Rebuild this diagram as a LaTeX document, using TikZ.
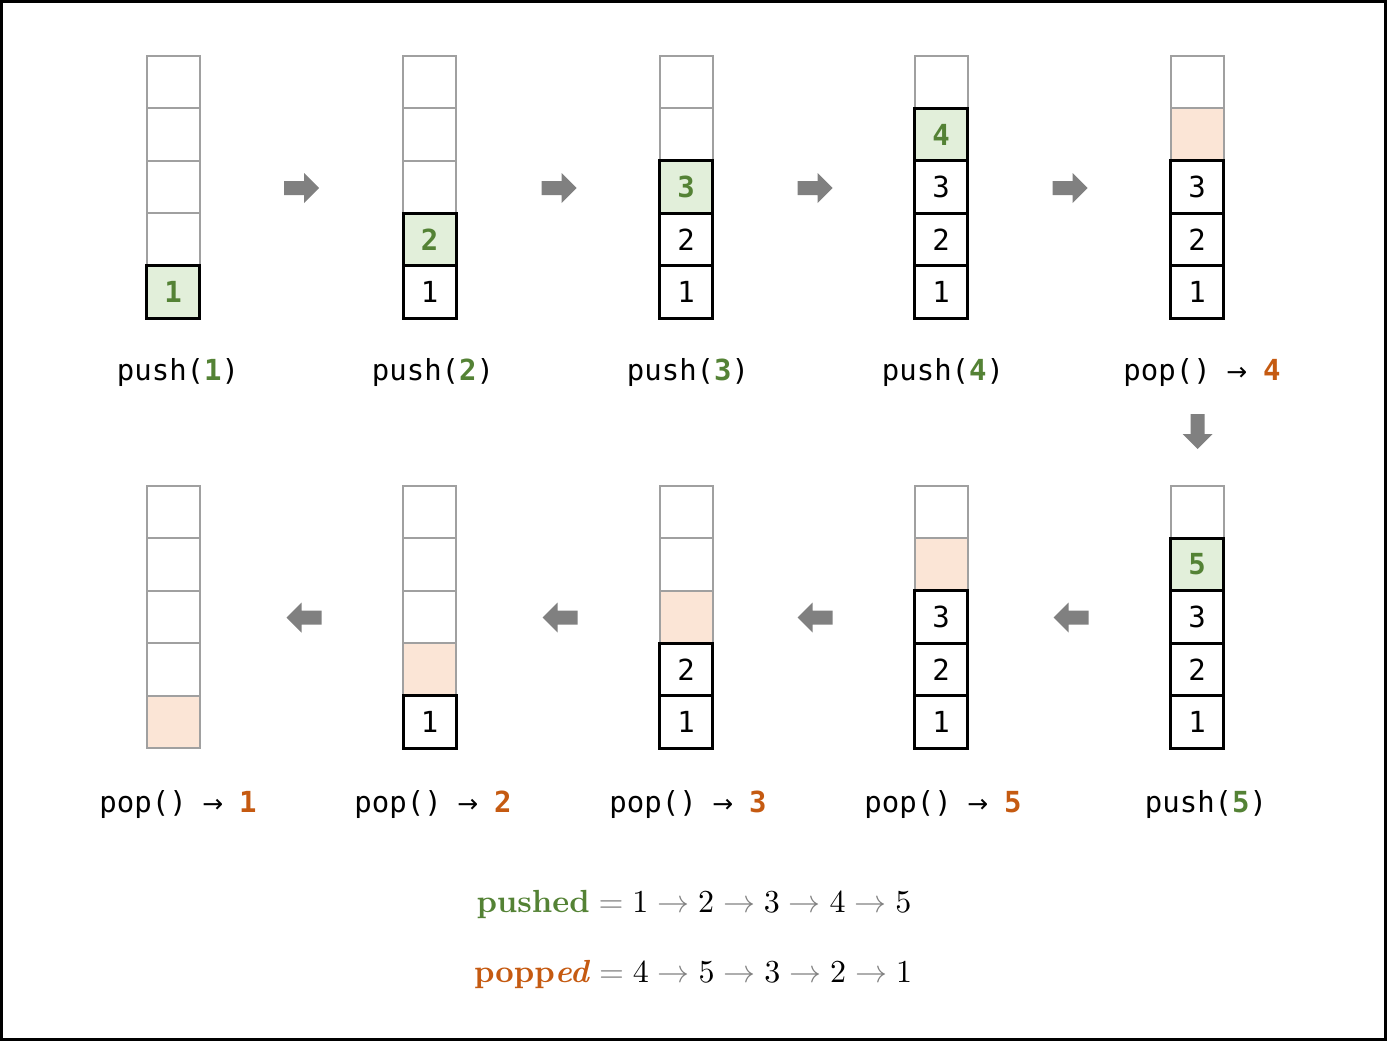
\documentclass[tikz,border=0pt]{standalone}
\usepackage{fontspec}
\newfontfamily\monof{DejaVu Sans Mono}
\newfontfamily\arrf{DejaVu Sans}
\usetikzlibrary{positioning}
\definecolor{ggreen}{HTML}{548235}
\definecolor{gfill}{HTML}{E2EFDA}
\definecolor{peach}{HTML}{FBE5D6}
\definecolor{orng}{HTML}{C55A11}
\definecolor{arrowgray}{HTML}{808080}
\definecolor{cellgray}{HTML}{A0A0A0}
\newcommand\cl[6]{\node[#5] (#1) at (#2,{-(#3-(#4-1)*52.4)}) {#6};}
\newcommand\gv[1]{\textcolor{ggreen}{\bfseries #1}}
\newcommand\ov[1]{\textcolor{orng}{\bfseries #1}}
\newcommand\marr{\makebox[0.602em]{\arrf\fontsize{25}{25}\selectfont →}}
\newcommand\gar{\mathrel{\textcolor{arrowgray}{\to}}}
\newcommand\geqs{\mathrel{\textcolor{arrowgray}{=}}}
\begin{document}
\begin{tikzpicture}[x=1pt,y=1pt,
  ecell/.style={draw=cellgray, line width=2pt, fill=white, minimum width=53pt, minimum height=52.4pt, inner sep=0pt, outer sep=0pt},
  pcell/.style={ecell, fill=peach},
  bcell/.style={draw=black, line width=3pt, fill=white, minimum width=53pt, minimum height=52.4pt, inner sep=0pt, outer sep=0pt, font=\monof\fontsize{29}{30}\selectfont},
  gcell/.style={bcell, fill=gfill, text=ggreen, font=\monof\bfseries\fontsize{29}{30}\selectfont},
  lab/.style={font=\monof\fontsize{29}{32}\selectfont, anchor=base, inner sep=0pt},
  eqn/.style={font=\fontsize{10}{12}\selectfont, scale=3.2, transform shape, anchor=base, inner sep=0pt},
  barrow/.pic={\fill[arrowgray] (-17.5,-7)--(2.5,-7)--(2.5,-15)--(17.5,0)--(2.5,15)--(2.5,7)--(-17.5,7)--cycle;}
]
\useasboundingbox (0,0) rectangle (1387,-1041);
\draw[line width=3pt] (1.5,-1.5) rectangle (1385.5,-1039.5);

% ---------- top row ----------
% stack A
\cl{a5}{173}{291.8}{5}{ecell}{}
\cl{a4}{173}{291.8}{4}{ecell}{}
\cl{a3}{173}{291.8}{3}{ecell}{}
\cl{a2}{173}{291.8}{2}{ecell}{}
\cl{a1}{173}{291.8}{1}{gcell}{1}
% stack B
\cl{b5}{429.5}{291.8}{5}{ecell}{}
\cl{b4}{429.5}{291.8}{4}{ecell}{}
\cl{b3}{429.5}{291.8}{3}{ecell}{}
\cl{b2}{429.5}{291.8}{2}{gcell}{2}
\cl{b1}{429.5}{291.8}{1}{bcell}{1}
% stack C
\cl{c5}{686}{291.8}{5}{ecell}{}
\cl{c4}{686}{291.8}{4}{ecell}{}
\cl{c3}{686}{291.8}{3}{gcell}{3}
\cl{c2}{686}{291.8}{2}{bcell}{2}
\cl{c1}{686}{291.8}{1}{bcell}{1}
% stack D
\cl{d5}{941}{291.8}{5}{ecell}{}
\cl{d4}{941}{291.8}{4}{gcell}{4}
\cl{d3}{941}{291.8}{3}{bcell}{3}
\cl{d2}{941}{291.8}{2}{bcell}{2}
\cl{d1}{941}{291.8}{1}{bcell}{1}
% stack E
\cl{e5}{1197}{291.8}{5}{ecell}{}
\cl{e4}{1197}{291.8}{4}{pcell}{}
\cl{e3}{1197}{291.8}{3}{bcell}{3}
\cl{e2}{1197}{291.8}{2}{bcell}{2}
\cl{e1}{1197}{291.8}{1}{bcell}{1}

% ---------- bottom row ----------
% stack F
\cl{f5}{1197}{721.8}{5}{ecell}{}
\cl{f4}{1197}{721.8}{4}{gcell}{5}
\cl{f3}{1197}{721.8}{3}{bcell}{3}
\cl{f2}{1197}{721.8}{2}{bcell}{2}
\cl{f1}{1197}{721.8}{1}{bcell}{1}
% stack G
\cl{g5}{941}{721.8}{5}{ecell}{}
\cl{g4}{941}{721.8}{4}{pcell}{}
\cl{g3}{941}{721.8}{3}{bcell}{3}
\cl{g2}{941}{721.8}{2}{bcell}{2}
\cl{g1}{941}{721.8}{1}{bcell}{1}
% stack H
\cl{h5}{686}{721.8}{5}{ecell}{}
\cl{h4}{686}{721.8}{4}{ecell}{}
\cl{h3}{686}{721.8}{3}{pcell}{}
\cl{h2}{686}{721.8}{2}{bcell}{2}
\cl{h1}{686}{721.8}{1}{bcell}{1}
% stack I
\cl{i5}{429.5}{721.8}{5}{ecell}{}
\cl{i4}{429.5}{721.8}{4}{ecell}{}
\cl{i3}{429.5}{721.8}{3}{ecell}{}
\cl{i2}{429.5}{721.8}{2}{pcell}{}
\cl{i1}{429.5}{721.8}{1}{bcell}{1}
% stack J
\cl{j5}{173}{721.8}{5}{ecell}{}
\cl{j4}{173}{721.8}{4}{ecell}{}
\cl{j3}{173}{721.8}{3}{ecell}{}
\cl{j2}{173}{721.8}{2}{ecell}{}
\cl{j1}{173}{721.8}{1}{pcell}{}

% ---------- labels ----------
\node[lab] (la) at (178,-380) {push(\gv{1})};
\node[lab] (lb) at (433,-380) {push(\gv{2})};
\node[lab] (lc) at (688,-380) {push(\gv{3})};
\node[lab] (ld) at (943,-380) {push(\gv{4})};
\node[lab] (le) at (1202,-380) {pop() \marr{} \ov{4}};
\node[lab] (lf) at (1206,-812) {push(\gv{5})};
\node[lab] (lg) at (943,-812) {pop() \marr{} \ov{5}};
\node[lab] (lh) at (688,-812) {pop() \marr{} \ov{3}};
\node[lab] (li) at (433,-812) {pop() \marr{} \ov{2}};
\node[lab] (lj) at (178,-812) {pop() \marr{} \ov{1}};

% ---------- block arrows ----------
\pic (ar1) at (301.5,-188) {barrow};
\pic (ar2) at (559,-188) {barrow};
\pic (ar3) at (815,-188) {barrow};
\pic (ar4) at (1070,-188) {barrow};
\pic[rotate=-90] (ar5) at (1197.5,-431.5) {barrow};
\pic[rotate=180] (ar6) at (1071,-617.5) {barrow};
\pic[rotate=180] (ar7) at (815,-617.5) {barrow};
\pic[rotate=180] (ar8) at (560,-617.5) {barrow};
\pic[rotate=180] (ar9) at (304,-617.5) {barrow};

% ---------- sequences ----------
\node[eqn] (pushed) at (694,-912) {\textcolor{ggreen}{\bfseries pushed}${}\geqs 1\gar 2\gar 3\gar 4\gar 5$};
\node[eqn] (popped) at (693,-982) {\textcolor{orng}{\bfseries popp\textit{ed}}${}\geqs 4\gar 5\gar 3\gar 2\gar 1$};
\end{tikzpicture}
\end{document}
